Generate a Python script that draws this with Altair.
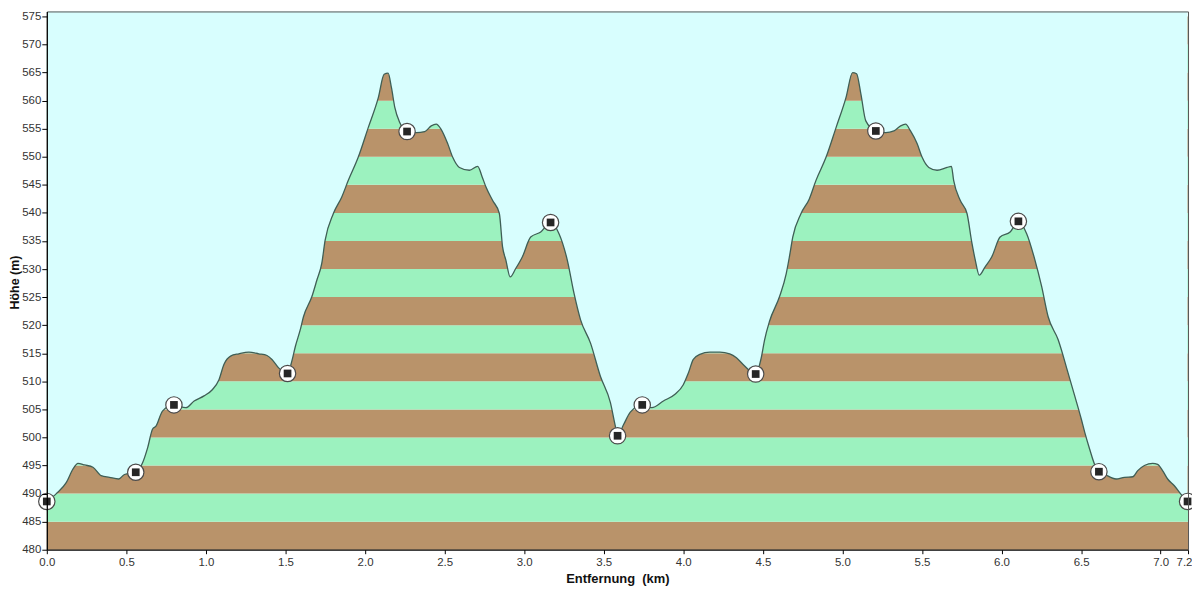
import altair as alt
import pandas as pd

# Elevation profile (distance in km, elevation in m)
km = [0.000, 0.060, 0.123, 0.165, 0.196, 0.238, 0.290, 0.342, 0.394, 0.452,
      0.488, 0.559, 0.602, 0.634, 0.665, 0.686, 0.727, 0.799, 0.874, 0.926,
      0.988, 1.040, 1.082, 1.113, 1.155, 1.207, 1.270, 1.332, 1.384, 1.415,
      1.457, 1.513, 1.540, 1.562, 1.593, 1.613, 1.666, 1.697, 1.728, 1.749,
      1.801, 1.853, 1.895, 1.957, 2.020, 2.083, 2.120, 2.145, 2.166, 2.187,
      2.218, 2.264, 2.322, 2.375, 2.416, 2.447, 2.478, 2.520, 2.551, 2.593,
      2.656, 2.708, 2.735, 2.760, 2.802, 2.844, 2.864, 2.885, 2.912, 2.947,
      2.989, 3.041, 3.104, 3.166, 3.219, 3.271, 3.313, 3.354, 3.417, 3.479,
      3.542, 3.573, 3.587, 3.625, 3.667, 3.742, 3.802, 3.875, 3.948, 4.000,
      4.032, 4.063, 4.104, 4.167, 4.230, 4.292, 4.334, 4.376, 4.455, 4.490,
      4.511, 4.542, 4.605, 4.647, 4.667, 4.688, 4.740, 4.792, 4.834, 4.897,
      4.960, 5.022, 5.064, 5.089, 5.116, 5.147, 5.210, 5.272, 5.324, 5.366,
      5.397, 5.428, 5.470, 5.501, 5.543, 5.595, 5.658, 5.685, 5.699, 5.741,
      5.783, 5.814, 5.835, 5.860, 5.897, 5.939, 5.991, 6.054, 6.106, 6.158,
      6.210, 6.252, 6.293, 6.356, 6.418, 6.460, 6.502, 6.523, 6.554, 6.585,
      6.612, 6.650, 6.720, 6.772, 6.825, 6.856, 6.898, 6.950, 6.981, 7.012,
      7.044, 7.086, 7.127, 7.169]
elev = [488.6, 490.0, 492.0, 494.4, 495.4, 495.1, 494.7, 493.2, 492.9, 492.6,
        493.4, 493.8, 495.5, 498.2, 501.5, 502.0, 504.7, 505.8, 505.3, 506.5,
        507.4, 508.5, 510.3, 513.0, 514.5, 514.9, 515.2, 514.9, 514.6, 513.9,
        512.4, 511.4, 513.6, 516.2, 519.2, 521.5, 525.1, 528.0, 531.0, 535.1,
        539.9, 542.8, 545.8, 549.9, 555.2, 560.5, 564.7, 564.9, 562.3, 558.8,
        556.1, 554.5, 554.3, 554.5, 555.5, 555.8, 554.9, 552.3, 549.9, 548.1,
        547.6, 548.3, 546.5, 544.6, 542.2, 539.9, 534.0, 531.6, 528.6, 530.1,
        532.2, 535.7, 536.6, 538.3, 536.3, 531.6, 525.7, 521.0, 516.8, 510.9,
        506.2, 502.0, 500.3, 502.3, 504.5, 505.8, 505.3, 506.5, 507.7, 509.4,
        511.5, 513.9, 514.8, 515.2, 515.2, 514.9, 514.2, 513.0, 511.3, 514.2,
        517.4, 520.7, 525.1, 529.2, 532.2, 535.7, 539.9, 542.5, 545.8, 549.9,
        555.2, 560.5, 565.0, 564.8, 561.2, 556.4, 554.6, 554.3, 554.6, 555.5,
        555.8, 554.6, 552.3, 549.9, 548.1, 547.6, 548.1, 548.3, 545.8, 542.2,
        539.9, 534.6, 531.6, 528.9, 530.4, 532.2, 535.7, 536.6, 538.5, 536.3,
        531.6, 526.9, 521.5, 517.4, 511.5, 507.4, 503.2, 500.9, 497.9, 495.2,
        493.9, 493.4, 492.6, 492.9, 493.0, 494.1, 495.0, 495.4, 495.2, 494.1,
        492.6, 491.4, 489.9, 488.6]

# Waypoints
wp_km = [0.000, 0.559, 0.799, 1.513, 2.264, 3.166, 3.587, 3.742, 4.455,
         5.210, 6.106, 6.612, 7.169]
wp_m = [488.6, 493.8, 505.8, 511.4, 554.5, 538.3, 500.3, 505.8, 511.3,
        554.6, 538.5, 493.9, 488.6]

# 5 m elevation bands
band_lo = [480, 485, 490, 495, 500, 505, 510, 515, 520, 525, 530, 535, 540,
           545, 550, 555, 560, 565, 570]
band_hi = [485, 490, 495, 500, 505, 510, 515, 520, 525, 530, 535, 540, 545,
           550, 555, 560, 565, 570, 575]

y_ticks = [480, 485, 490, 495, 500, 505, 510, 515, 520, 525, 530, 535, 540,
           545, 550, 555, 560, 565, 570, 575]
x_ticks = [0.0, 0.5, 1.0, 1.5, 2.0, 2.5, 3.0, 3.5, 4.0, 4.5, 5.0, 5.5, 6.0,
           6.5, 7.0, 7.172]

X_MAX = 7.172
Y_MIN, Y_MAX = 480, 575.89

BROWN = "#B9936A"
GREEN = "#9CF2BF"
SKY = "#D8FEFE"
OUTLINE = "#3F5E55"
FONT = "Liberation Sans"

profile = pd.DataFrame({"km": km, "m": elev})
waypoints = pd.DataFrame({"km": wp_km, "m": wp_m})
bands = pd.DataFrame({
    "lo": band_lo,
    "hi": band_hi,
    "c": [BROWN if i % 2 == 0 else GREEN for i in range(len(band_lo))],
})

xscale = alt.Scale(domain=[0, X_MAX], nice=False, zero=False)
yscale = alt.Scale(domain=[Y_MIN, Y_MAX], nice=False, zero=False)

x_axis = alt.Axis(
    values=x_ticks, format=".1f", grid=False, tickSize=4, tickColor="#000",
    domainColor="#000", domainWidth=1.3, labelFont=FONT, labelFontSize=11.5,
    labelColor="#333", labelPadding=3, labelFlush=False, labelOverlap=False,
    labelOffset={"condition": {"test": "datum.value > 7.1", "value": -4}, "value": 0},
    title="Entfernung\u00a0\u00a0(km)", titleFont=FONT, titleFontSize=13,
    titleFontWeight="bold", titleColor="#111", titleY=33,
    titleBaseline="alphabetic", zindex=1,
)
y_axis = alt.Axis(
    values=y_ticks, grid=False, tickSize=5, tickColor="#000",
    domainColor="#000", domainWidth=1.3, labelFont=FONT, labelFontSize=11.5,
    labelColor="#333", labelPadding=1, labelFlush=False, labelOverlap=False,
    title="Höhe (m)", titleFont=FONT, titleFontSize=12.5,
    titleFontWeight="bold", titleColor="#111", titleX=-32, titleY=272,
    titleAngle=270, titleAlign="center", titleBaseline="middle", zindex=1,
)

band_layer = alt.Chart(bands).mark_rect().encode(
    x=alt.value(0),
    x2=alt.value("width"),
    y=alt.Y("lo:Q", scale=yscale, axis=y_axis),
    y2="hi:Q",
    color=alt.Color("c:N", scale=None),
)

# sky above the profile hides the bands there
sky_layer = alt.Chart(profile).mark_area(
    color=SKY, opacity=1, interpolate="monotone"
).encode(
    x=alt.X("km:Q", scale=xscale, axis=x_axis),
    y=alt.Y("m:Q", scale=yscale, axis=None, stack=None),
    y2=alt.datum(Y_MAX),
)

line_layer = alt.Chart(profile).mark_line(
    color=OUTLINE, strokeWidth=1.3, interpolate="monotone"
).encode(
    x=alt.X("km:Q", scale=xscale, axis=None),
    y=alt.Y("m:Q", scale=yscale, axis=None),
)

frame_layer = alt.Chart(profile).mark_line(opacity=0).encode(
    x=alt.X("km:Q", scale=xscale, axis=alt.Axis(
        orient="top", labels=False, ticks=False, title=None, grid=False,
        domainColor="#555", domainWidth=1, zindex=1)),
    y=alt.Y("m:Q", scale=yscale, axis=alt.Axis(
        orient="right", labels=False, ticks=False, title=None, grid=False,
        domainColor="#555", domainWidth=1, zindex=1)),
)

wp_circle = alt.Chart(waypoints).mark_point(
    shape="circle", filled=True, fill="white", stroke="#4a4a4a",
    strokeWidth=1.2, size=270, opacity=1,
).encode(
    x=alt.X("km:Q", scale=xscale, axis=None),
    y=alt.Y("m:Q", scale=yscale, axis=None),
)

wp_square = alt.Chart(waypoints).mark_point(
    shape="square", filled=True, fill="#262626", size=60, opacity=1,
).encode(
    x=alt.X("km:Q", scale=xscale, axis=None),
    y=alt.Y("m:Q", scale=yscale, axis=None),
)

chart = alt.layer(
    band_layer, sky_layer, line_layer, frame_layer, wp_circle, wp_square
).resolve_axis(
    x="independent", y="independent"
).properties(
    width=1147,
    height=541,
    autosize=alt.AutoSizeParams(type="none"),
    padding={"left": 39, "top": 2, "right": 4, "bottom": 37},
    background="white",
).configure_view(
    stroke=None
)

chart.save("out.html", embed_options={"renderer": "svg", "actions": False})
